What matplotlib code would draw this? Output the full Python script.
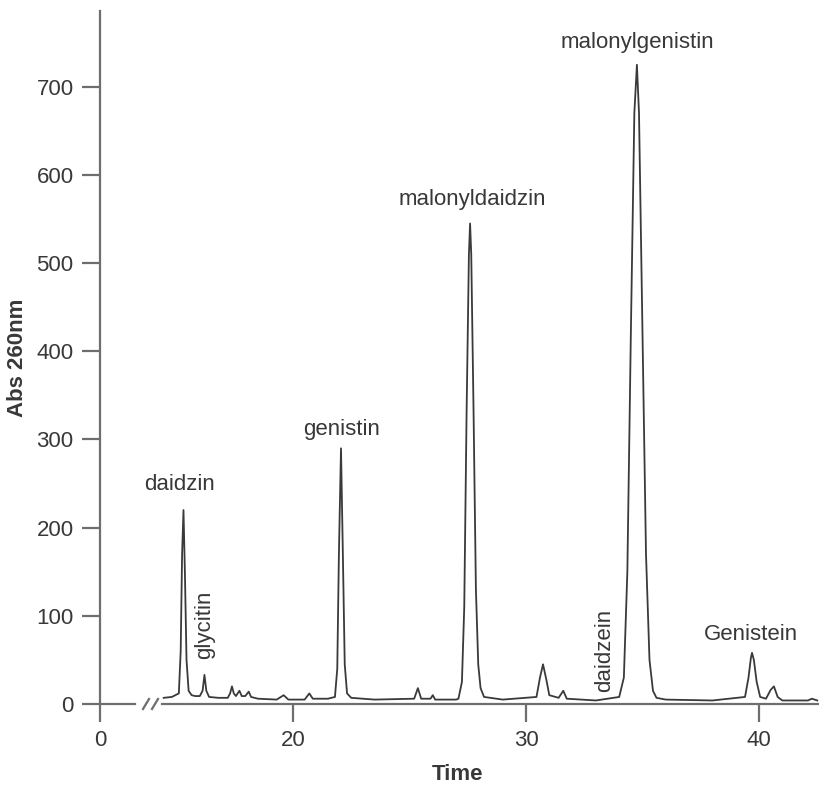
import matplotlib
matplotlib.use('Agg')
import matplotlib.pyplot as plt
from matplotlib.lines import Line2D

plt.rcParams['font.family'] = ['Liberation Sans', 'DejaVu Sans']

# trace points (time in min, absorbance)
time = [14.45, 14.8, 14.95, 15.1, 15.18, 15.24, 15.3, 15.36, 15.43, 15.52, 15.65,
        15.8, 16.0, 16.12, 16.2, 16.28, 16.4, 16.8, 17.2, 17.3, 17.38, 17.46, 17.55,
        17.7, 17.8, 17.95, 18.1, 18.2, 18.5, 19.3, 19.6, 19.8, 20.5, 20.7, 20.85,
        21.5, 21.8, 21.9, 21.97, 22.06, 22.14, 22.22, 22.32, 22.5, 23.5, 25.2, 25.36,
        25.5, 25.9, 26.0, 26.1, 27.0, 27.1, 27.25, 27.35, 27.45, 27.55, 27.6, 27.65,
        27.75, 27.85, 27.95, 28.05, 28.2, 29.0, 30.45, 30.6, 30.73, 30.87, 31.0,
        31.4, 31.6, 31.75, 33.0, 34.0, 34.2, 34.35, 34.5, 34.65, 34.76, 34.85,
        35.0, 35.15, 35.3, 35.45, 35.6, 36.0, 38.0, 39.4, 39.55, 39.65, 39.7,
        39.78, 39.9, 40.05, 40.3, 40.5, 40.64, 40.8, 41.0, 42.1, 42.27, 42.5]
absorb = [7, 8, 10, 12, 60, 170, 220, 150, 50, 15, 10,
          9, 9, 15, 33, 15, 8, 7, 7, 12, 20, 12, 9,
          15, 9, 9, 14, 8, 6, 5, 10, 5, 5, 12, 6,
          6, 8, 40, 170, 290, 170, 45, 12, 7, 5, 6, 18,
          6, 6, 10, 5, 5, 6, 25, 110, 330, 510, 545, 510,
          330, 130, 45, 18, 8, 5, 8, 30, 45, 28, 10,
          7, 15, 6, 4, 8, 30, 150, 420, 670, 725, 670,
          420, 170, 50, 15, 7, 5, 4, 8, 30, 52, 58,
          50, 25, 8, 6, 16, 20, 8, 4, 4, 6, 4]

# peak labels: text, time, absorbance, rotation
peak_names = ['daidzin', 'glycitin', 'genistin', 'malonyldaidzin',
              'malonylgenistin', 'daidzein', 'Genistein']
peak_t = [15.15, 16.22, 22.1, 27.68, 34.76, 33.39, 39.66]
peak_v = [249, 90, 311, 572, 750, 61, 79]
peak_rot = [0, 90, 0, 0, 0, 90, 0]

xticks = [20, 30, 40]
yticks = [0, 100, 200, 300, 400, 500, 600, 700]

axis_col = '#6e6e6e'
text_col = '#383838'
fs = 16

fig = plt.figure(figsize=(8.19, 7.91), dpi=100)
bottom = 87 / 791
height = (791 - 11 - 87) / 791
ax0 = fig.add_axes([100 / 819, bottom, 35 / 819, height])
ax1 = fig.add_axes([162 / 819, bottom, 657 / 819, height])

ymax = 786
ax0.set_xlim(0, 35 / 23.3)
ax0.set_ylim(0, ymax)
ax1.set_xlim(20 - 131 / 23.3, 20 + 526 / 23.3)
ax1.set_ylim(0, ymax)

ax1.plot(time, absorb, color='#3a3a3a', lw=1.3)

for name, t, v, r in zip(peak_names, peak_t, peak_v, peak_rot):
    ax1.text(t, v, name, rotation=r, ha='center', va='center',
             fontsize=fs, color=text_col)

for ax in (ax0, ax1):
    for s in ('top', 'right'):
        ax.spines[s].set_visible(False)
    ax.spines['bottom'].set_color(axis_col)
    ax.spines['bottom'].set_linewidth(1.6)
    ax.tick_params(colors=axis_col, labelcolor=text_col, length=13, width=1.6,
                   labelsize=fs, pad=6)
    ax.patch.set_visible(False)

ax0.spines['left'].set_color(axis_col)
ax0.spines['left'].set_linewidth(1.6)
ax0.set_xticks([0])
ax0.set_yticks(yticks)
ax0.set_ylabel('Abs 260nm', fontsize=fs, fontweight='bold', color=text_col)
ax0.yaxis.set_label_coords(28 / 819, 1 - 358 / 791, transform=fig.transFigure)

ax1.spines['left'].set_visible(False)
ax1.set_xticks(xticks)
ax1.set_yticks([])

fig.text(458 / 819, 1 - 775 / 791, 'Time', ha='center', va='center',
         fontsize=fs, fontweight='bold', color=text_col)

# axis break marks
yb = 1 - 704 / 791
for xc in (146, 155):
    fig.add_artist(Line2D([(xc - 3) / 819, (xc + 3) / 819],
                          [yb - 5 / 791, yb + 5 / 791],
                          transform=fig.transFigure, color=axis_col, lw=1.6))

fig.savefig('out.png', dpi=100)
